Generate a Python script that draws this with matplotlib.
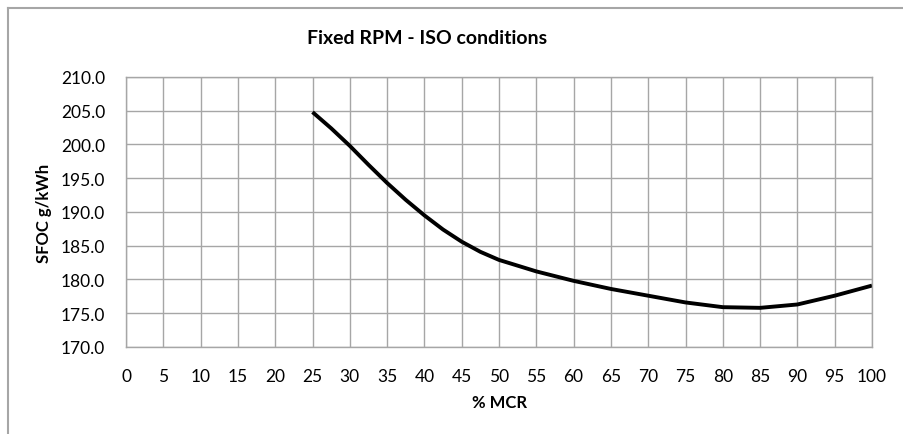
#!/usr/bin/env python3
"""SFOC curve at fixed RPM, ISO conditions."""

import matplotlib
matplotlib.use('Agg')
import matplotlib.pyplot as plt
from matplotlib.lines import Line2D

plt.rcParams.update({
    'font.family': ['Lato', 'DejaVu Sans'],
    'font.size': 12,
    'figure.dpi': 100,
})

# load (% MCR) vs specific fuel oil consumption
mcr = [25, 27.5, 30, 32.5, 35, 37.5, 40, 42.5, 45, 47.5, 50, 55, 60, 65, 70,
       75, 80, 85, 90, 95, 100]
sfoc = [204.8, 202.4, 199.8, 197.0, 194.3, 191.8, 189.5, 187.4, 185.6, 184.1,
        182.9, 181.2, 179.8, 178.6, 177.6, 176.6, 175.9, 175.8, 176.3, 177.6,
        179.1]

GRID = '#a6a6a6'

fig = plt.figure(figsize=(9.04, 4.35))
ax = fig.add_axes([0.1394, 0.2, 0.8252, 0.6207])

ax.plot(mcr, sfoc, color='black', linewidth=2.8, solid_capstyle='butt')

ax.set_xlim(0, 100)
ax.set_ylim(170, 210)
ax.set_xticks(range(0, 101, 5))
ax.set_yticks(range(170, 211, 5))
ax.set_yticklabels([f'{v:.1f}' for v in range(170, 211, 5)])
ax.tick_params(length=0, labelsize=12.5)
ax.tick_params(axis='x', pad=15)
ax.tick_params(axis='y', pad=15)
ax.grid(True, color=GRID, linewidth=1.0)
ax.set_axisbelow(True)
for s in ax.spines.values():
    s.set_color(GRID)
    s.set_linewidth(1.0)

ax.set_xlabel('% MCR', fontweight='bold', fontsize=12, labelpad=7)
ax.set_ylabel('SFOC g/kWh', fontweight='bold', fontsize=12, labelpad=6)
fig.text(427 / 904, 1 - 38 / 435, 'Fixed RPM - ISO conditions',
         ha='center', va='center', fontweight='bold', fontsize=14)

# chart frame (left and top edges)
x0, y0 = 7.5 / 904, 1 - 8.5 / 435
fig.add_artist(Line2D([x0, x0], [0, y0], color=GRID, linewidth=1.5,
                      transform=fig.transFigure))
fig.add_artist(Line2D([x0, 1], [y0, y0], color=GRID, linewidth=1.5,
                      transform=fig.transFigure))

fig.savefig('out.png')
